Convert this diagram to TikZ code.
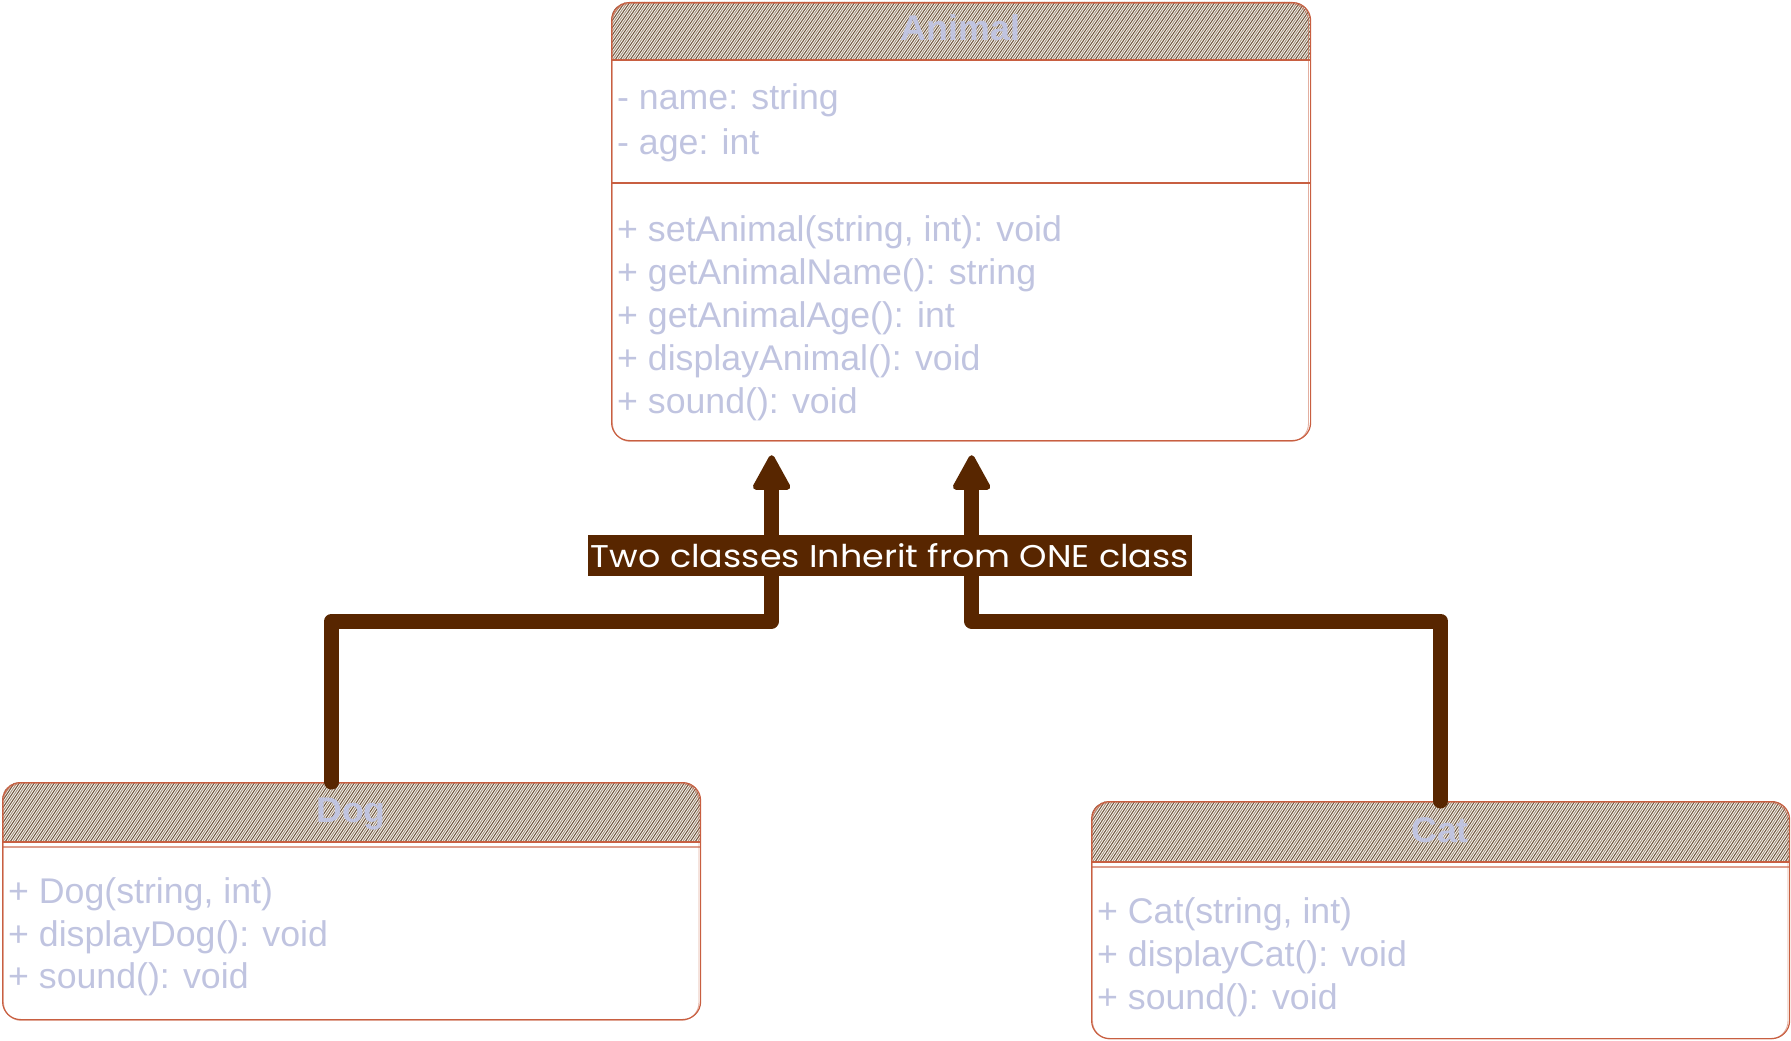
\documentclass[tikz,border=0pt]{standalone}
\usepackage{fontspec}
\usepackage{graphicx}
\setmainfont{Liberation Sans}
\newfontfamily\labelfont{Poppins}
\usetikzlibrary{arrows.meta,calc}
\definecolor{boxline}{RGB}{200,95,65}
\definecolor{hatchc}{RGB}{115,90,65}
\definecolor{hatchl}{RGB}{170,152,130}
\definecolor{txt}{RGB}{192,196,224}
\definecolor{conn}{RGB}{88,38,0}
\tikzset{
 classbox/.style={draw=boxline, line width=1.2pt, rounded corners=18pt, inner sep=0pt},
 sketch/.style={draw=boxline, line width=0.9pt, opacity=.5, rounded corners=18pt},
 sepline/.style={draw=boxline, line width=1.2pt},
 hatchline/.style={draw=hatchc, line width=1.1pt},
 hatchlight/.style={draw=hatchl, line width=1.1pt},
 member/.style={anchor=base west, inner sep=0pt, text=txt, font=\fontsize{35.7}{43}\selectfont},
 ctitle/.style={anchor=base, inner sep=0pt, text=txt, font=\fontsize{35.7}{43}\selectfont\bfseries},
 inherit/.style={draw=conn, line width=15pt, line join=round, line cap=round,
   -{Triangle[length=38pt,width=40pt,round,line width=6pt]}, shorten >=14pt},
 lbl/.style={fill=conn, text=white, minimum width=604pt, minimum height=41pt, inner sep=0pt},
}
\begin{document}
\begin{tikzpicture}[x=1pt,y=-1pt]
\useasboundingbox (0,0) rectangle (1791,1041);

% ---------- Animal ----------
\begin{scope}
\clip[rounded corners=18pt] (611,2) rectangle (1310,440);
\clip (600,0) rectangle (1320,60);
\foreach \x in {560,565,...,1320} {\draw[hatchline] (\x,60) -- ++(40,-58); \draw[hatchlight] (\x+2.5,60) -- ++(40,-58);}
\end{scope}
\node[classbox, minimum width=699pt, minimum height=438pt, anchor=north west] (animal) at (611,2) {};
\draw[sketch] (612.5,3.5) rectangle (1308.5,441.5);
\draw[sepline] (611,60) -- (1310,60);
\draw[sepline] (611,183) -- (1310,183);
\node[ctitle] (animalT) at (960.5,41) {Animal};
\node[member] (a1) at (617,110) {- name: string};
\node[member] (a2) at (617,154) {- age: int};
\node[member] (m1) at (617,241) {+ setAnimal(string, int): void};
\node[member] (m2) at (617,284) {+ getAnimalName(): string};
\node[member] (m3) at (617,327) {+ getAnimalAge(): int};
\node[member] (m4) at (617,370) {+ displayAnimal(): void};
\node[member] (m5) at (617,413) {+ sound(): void};

% ---------- Dog ----------
\begin{scope}
\clip[rounded corners=18pt] (2,782) rectangle (700,1019);
\clip (0,770) rectangle (710,842);
\foreach \x in {-45,-40,...,710} {\draw[hatchline] (\x,842) -- ++(40,-60); \draw[hatchlight] (\x+2.5,842) -- ++(40,-60);}
\end{scope}
\node[classbox, minimum width=698pt, minimum height=237pt, anchor=north west] (dog) at (2,782) {};
\draw[sketch] (3.5,783.5) rectangle (699,1020.5);
\draw[sepline] (2,842) -- (700,842);
\draw[sepline, opacity=.6] (2,847) -- (700,847);
\node[ctitle] (dogT) at (351,822) {Dog};
\node[member] (d1) at (8,903) {+ Dog(string, int)};
\node[member] (d2) at (8,946) {+ displayDog(): void};
\node[member] (d3) at (8,988) {+ sound(): void};

% ---------- Cat ----------
\begin{scope}
\clip[rounded corners=18pt] (1091,801) rectangle (1789,1038);
\clip (1080,790) rectangle (1791,862);
\foreach \x in {1045,1050,...,1795} {\draw[hatchline] (\x,862) -- ++(40,-61); \draw[hatchlight] (\x+2.5,862) -- ++(40,-61);}
\end{scope}
\node[classbox, minimum width=698pt, minimum height=237pt, anchor=north west] (cat) at (1091,801) {};
\draw[sketch] (1092.5,802.5) rectangle (1788,1039);
\draw[sepline] (1091,862) -- (1789,862);
\draw[sepline, opacity=.6] (1091,867) -- (1789,867);
\node[ctitle] (catT) at (1440,842) {Cat};
\node[member] (c1) at (1097,923) {+ Cat(string, int)};
\node[member] (c2) at (1097,966) {+ displayCat(): void};
\node[member] (c3) at (1097,1009) {+ sound(): void};

% ---------- connectors ----------
\draw[inherit] ([xshift=-20pt]dog.north) -- ++(0,-161) -| ([xshift=-189.5pt]animal.south);
\draw[inherit] (cat.north) -- ++(0,-180) -| ([xshift=10.5pt]animal.south);

\node[lbl] (label) at (890,555.5) {\resizebox{598pt}{24pt}{\labelfont Two classes Inherit from ONE class}};
\end{tikzpicture}
\end{document}
